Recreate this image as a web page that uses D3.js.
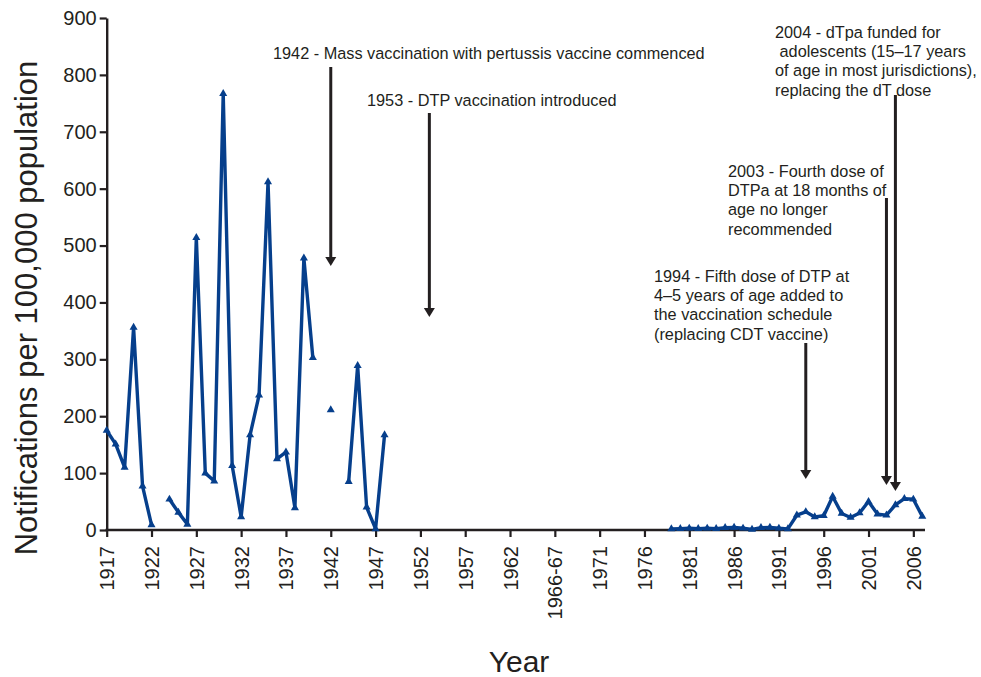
<!DOCTYPE html>
<html>
<head>
<meta charset="utf-8">
<script src="https://cdn.jsdelivr.net/npm/d3@7"></script>
<style>
  html, body { margin: 0; padding: 0; background: #fff; }
  svg { display: block; }
  text { font-family: "Liberation Sans", Arial, Helvetica, sans-serif; fill: #231f20; }
</style>
</head>
<body>
<svg id="chart" width="981" height="677"></svg>
<script>
// Year categories on the x axis (one fiscal-year entry sits between 1966 and 1967)
const categories = [
  "1917","1918","1919","1920","1921","1922","1923","1924","1925","1926",
  "1927","1928","1929","1930","1931","1932","1933","1934","1935","1936",
  "1937","1938","1939","1940","1941","1942","1943","1944","1945","1946",
  "1947","1948","1949","1950","1951","1952","1953","1954","1955","1956",
  "1957","1958","1959","1960","1961","1962","1963","1964","1965","1966",
  "1966-67","1967","1968","1969","1970","1971","1972","1973","1974","1975",
  "1976","1977","1978","1979","1980","1981","1982","1983","1984","1985",
  "1986","1987","1988","1989","1990","1991","1992","1993","1994","1995",
  "1996","1997","1998","1999","2000","2001","2002","2003","2004","2005",
  "2006","2007"
];

// Pertussis notification rate per 100,000 population (null = no data)
const rates = [
  175, 151, 110, 356, 77, 9, null, 54, 31, 10,
  514, 100, 86, 767, 113, 23, 167, 237, 612, 125,
  137, 39, 478, 303, null, 211, null, 85, 289, 40,
  2, 167, null, null, null, null, null, null, null, null,
  null, null, null, null, null, null, null, null, null, null,
  null, null, null, null, null, null, null, null, null, null,
  null, null, null, 2, 2.5, 3, 2.5, 3, 2.5, 4,
  4.5, 3, 1, 4, 4.5, 3, 2, 26, 32, 23,
  25, 59, 29, 22, 30, 50, 28, 26, 44, 55,
  54, 24
];

// Labelled ticks on each axis
const xTickLabels = ["1917","1922","1927","1932","1937","1942","1947","1952","1957","1962",
  "1966-67","1971","1976","1981","1986","1991","1996","2001","2006"];
const yTicks = [0, 100, 200, 300, 400, 500, 600, 700, 800, 900];

// Vaccination schedule milestones
const milestoneYears = ["1942", "1953", "1994", "2003", "2004"];
const milestoneText = [
  ["1942 - Mass vaccination with pertussis vaccine commenced"],
  ["1953 - DTP vaccination introduced"],
  ["1994 - Fifth dose of DTP at", "4\u20135 years of age added to", "the vaccination schedule", "(replacing CDT vaccine)"],
  ["2003 - Fourth dose of", "DTPa at 18 months of", "age no longer", "recommended"],
  ["2004 - dTpa funded for", "\u00a0adolescents (15\u201317 years", "of age in most jurisdictions),", "replacing the dT dose"]
];

// Placement of each milestone's text block and arrow (pixels)
const milestoneLayout = [
  { tx: 273, ty: 59,  y1: 67,  y2: 266 },
  { tx: 367, ty: 106, y1: 113, y2: 317 },
  { tx: 654, ty: 282, y1: 343, y2: 479 },
  { tx: 728, ty: 177, y1: 198, y2: 485 },
  { tx: 775, ty: 38,  y1: 95,  y2: 491 }
];

const ink = "#231f20";
const lineBlue = "#063f8c";

const svg = d3.select("#chart");

const x = d3.scalePoint().domain(categories).range([106.7, 922.3]);
const y = d3.scaleLinear().domain([0, 900]).range([530, 18]);

// Y axis
const yAxis = svg.append("g")
  .attr("transform", "translate(106.7,0)")
  .call(d3.axisLeft(y).tickValues(yTicks).tickSize(7).tickSizeOuter(0).tickPadding(3));
yAxis.select(".domain").attr("stroke", ink).attr("stroke-width", 2.4);
yAxis.selectAll(".tick line").attr("stroke", ink).attr("stroke-width", 2.2);
yAxis.selectAll(".tick text").attr("font-size", 20).attr("fill", ink)
  .style("font-family", "'Liberation Sans', Arial, sans-serif");

// X axis
const xAxis = svg.append("g")
  .attr("transform", "translate(0,530)")
  .call(d3.axisBottom(x).tickValues(xTickLabels).tickSize(7).tickSizeOuter(0));
xAxis.select(".domain").attr("d", "M105.5,0H925").attr("stroke", ink).attr("stroke-width", 2.4);
xAxis.selectAll(".tick line").attr("stroke", ink).attr("stroke-width", 2.2);
xAxis.selectAll(".tick text")
  .attr("font-size", 20).attr("fill", ink)
  .style("font-family", "'Liberation Sans', Arial, sans-serif")
  .attr("transform", "rotate(-90)")
  .attr("text-anchor", "end")
  .attr("dy", "0.35em")
  .attr("x", -16)
  .attr("y", 0);

// Axis titles
svg.append("text")
  .attr("transform", "translate(37,308) rotate(-90)")
  .attr("text-anchor", "middle")
  .attr("font-size", 31)
  .text("Notifications per 100,000 population");

svg.append("text")
  .attr("x", 519).attr("y", 672)
  .attr("text-anchor", "middle")
  .attr("font-size", 30)
  .text("Year");

// Data series
const points = categories.map((c, i) => ({ cat: c, value: rates[i] }));

const line = d3.line()
  .defined(d => d.value !== null)
  .x(d => x(d.cat))
  .y(d => y(d.value));

svg.append("path")
  .datum(points)
  .attr("fill", "none")
  .attr("stroke", lineBlue)
  .attr("stroke-width", 3.4)
  .attr("stroke-linejoin", "round")
  .attr("d", line);

const tri = d3.symbol().type(d3.symbolTriangle).size(28);
svg.append("g")
  .selectAll("path")
  .data(points.filter(d => d.value !== null))
  .join("path")
  .attr("transform", d => `translate(${x(d.cat)},${y(d.value)})`)
  .attr("d", tri)
  .attr("fill", lineBlue);

// Milestone annotations
const arrowHead = 9;
milestoneYears.forEach((yr, i) => {
  const L = milestoneLayout[i];
  const ax = x(yr);
  const g = svg.append("g");
  g.append("line")
    .attr("x1", ax).attr("x2", ax)
    .attr("y1", L.y1).attr("y2", L.y2 - arrowHead + 1)
    .attr("stroke", ink).attr("stroke-width", 3);
  g.append("path")
    .attr("d", `M${ax - 5.5},${L.y2 - arrowHead}L${ax + 5.5},${L.y2 - arrowHead}L${ax},${L.y2}Z`)
    .attr("fill", ink);
  const t = g.append("text")
    .attr("x", L.tx).attr("y", L.ty)
    .attr("font-size", 16.3);
  milestoneText[i].forEach((s, k) => {
    t.append("tspan")
      .attr("x", L.tx)
      .attr("dy", k === 0 ? 0 : 19.2)
      .text(s);
  });
});
</script>
</body>
</html>
